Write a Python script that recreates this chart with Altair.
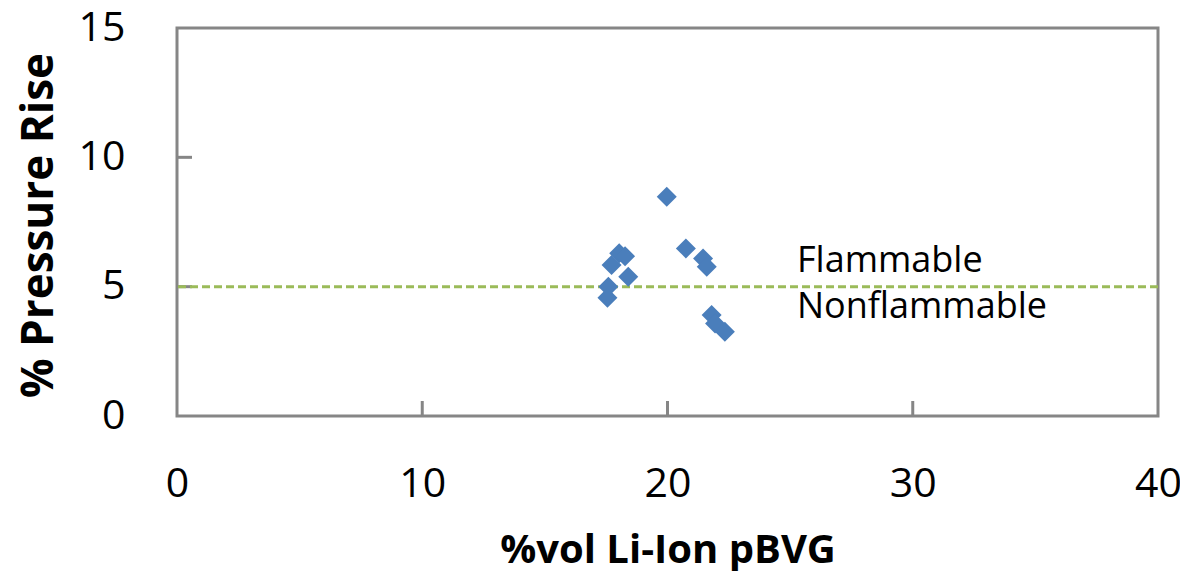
import altair as alt
import pandas as pd

# data
x_vals = [19.97, 20.75, 21.45, 21.6, 18.03, 18.27, 17.72, 18.4, 17.59, 17.55, 21.8, 21.94, 22.34]
y_vals = [8.48, 6.48, 6.09, 5.77, 6.29, 6.18, 5.84, 5.38, 5.0, 4.57, 3.9, 3.58, 3.26]
threshold = [5]
x_ticks_inner = [10, 20, 30]
y_ticks_inner = [5, 10]
ann_text = ["Flammable", "Nonflammable"]
ann_x = [25.28, 25.28]
ann_y = [5.57, 3.79]

pts = pd.DataFrame({"x": x_vals, "y": y_vals})
thr = pd.DataFrame({"y": threshold})
xt = pd.DataFrame({"x": x_ticks_inner})
yt = pd.DataFrame({"y": y_ticks_inner})
ann = pd.DataFrame({"x": ann_x, "y": ann_y, "t": ann_text})

FONT = "Open Sans"
W, H = 981, 388

xscale = alt.Scale(domain=[0, 40], nice=False, zero=False)
yscale = alt.Scale(domain=[0, 15], nice=False, zero=False)

xaxis = alt.Axis(values=[0, 10, 20, 30, 40], title="%vol Li-Ion pBVG", labelPadding=48,
                 labelFlush=False, titleY=114, titleBaseline="top", titleFontSize=40)
yaxis = alt.Axis(values=[0, 5, 10, 15], title="% Pressure Rise", labelPadding=52,
                 labelFlush=False, titleX=-125, titleY=197, titleAngle=-90,
                 titleBaseline="alphabetic", titleAlign="center", titleFontSize=44)

points = alt.Chart(pts).mark_point(shape="diamond", filled=True, size=400, opacity=1,
                                   color="#4A7EBB").encode(
    x=alt.X("x:Q", scale=xscale, axis=xaxis),
    y=alt.Y("y:Q", scale=yscale, axis=yaxis),
)

rule = alt.Chart(thr).mark_rule(color="#9BBB59", strokeWidth=3, strokeDash=[8, 4]).encode(
    y=alt.Y("y:Q", scale=yscale)
)

xticks = alt.Chart(xt).mark_rule(color="#868686", strokeWidth=3).encode(
    x=alt.X("x:Q", scale=xscale), y=alt.value(H - 15), y2=alt.value(H)
)
yticks = alt.Chart(yt).mark_rule(color="#868686", strokeWidth=3).encode(
    y=alt.Y("y:Q", scale=yscale), x=alt.value(0), x2=alt.value(15)
)

text = alt.Chart(ann).mark_text(align="left", baseline="alphabetic", font=FONT,
                                fontSize=36, color="black").encode(
    x=alt.X("x:Q", scale=xscale), y=alt.Y("y:Q", scale=yscale), text="t:N"
)

chart = alt.layer(xticks, yticks, rule, points, text).properties(
    width=W, height=H,
    padding={"left": 169, "top": 20, "right": 22, "bottom": 155},
    autosize=alt.AutoSizeParams(type="none"),
).configure_view(
    stroke="#868686", strokeWidth=3
).configure_axis(
    domain=False, ticks=False, grid=False,
    labelFont=FONT, labelFontSize=41, labelColor="black",
    titleFont=FONT, titleFontWeight="bold", titleColor="black",
)

chart.save("out.html", embed_options={"renderer": "svg", "actions": False})
